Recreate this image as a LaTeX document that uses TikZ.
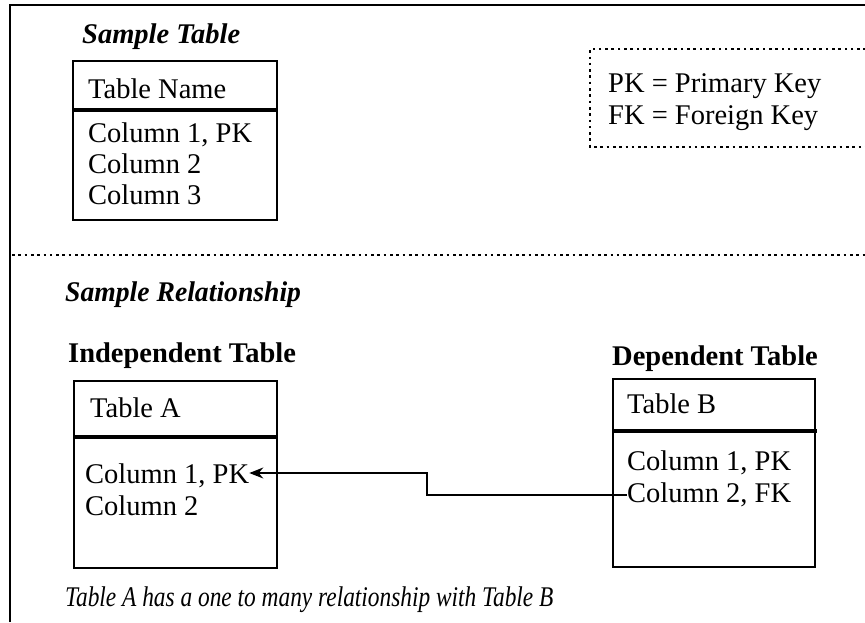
\documentclass[tikz,border=0pt]{standalone}
\usepackage{fontspec}
\usepackage{graphicx}
\setmainfont{Liberation Serif}
\usetikzlibrary{arrows.meta}
\begin{document}
\begin{tikzpicture}[x=1pt,y=-1pt,
  txt/.style={anchor=base west,inner sep=0pt,font=\fontsize{28.5}{31}\selectfont},
  ttl/.style={txt,font=\fontsize{28.5}{31}\selectfont\bfseries\itshape},
  hdr/.style={txt,font=\fontsize{28.5}{31}\selectfont\bfseries},
  tbox/.style={draw,line width=2pt,anchor=north west,inner sep=0pt},
  sep/.style={line width=4pt},
  dots/.style={line width=2.6pt,dash pattern=on 2.6pt off 3.7pt},
  frame/.style={line width=2pt},
  link/.style={line width=1.6pt,-{Stealth[length=14pt,width=11pt]}}]
\useasboundingbox (0,0) rectangle (865,622);
% frame
\draw[frame] (10,622) -- (10,5) -- (866,5);
% sample table
\node[ttl] (stt) at (82,43) {Sample Table};
\node[tbox,minimum width=204pt,minimum height=159pt] (st) at (72,60) {};
\draw[sep] (st.west |- 0,110) -- (st.east |- 0,110);
\node[txt] (stn) at (88,98) {Table Name};
\node[txt] (stc1) at (88,142) {Column 1, PK};
\node[txt] (stc2) at (88,173) {Column 2};
\node[txt] (stc3) at (88,204) {Column 3};
% legend
\draw[dots] (866,49) -- (590,49) -- (590,147) -- (866,147);
\node[txt] (lpk) at (608,92) {PK = Primary Key};
\node[txt] (lfk) at (608,124) {FK = Foreign Key};
% separator
\draw[dots] (12,255) -- (866,255);
% relationship
\node[ttl] (srt) at (65,301) {\scalebox{0.97}[1]{Sample Relationship}};
\node[hdr] (ind) at (68,362) {Independent Table};
\node[tbox,minimum width=203pt,minimum height=187pt] (ta) at (73,380) {};
\draw[sep] (ta.west |- 0,437) -- (ta.east |- 0,437);
\node[txt] (tan) at (90,417) {Table A};
\node[txt] (ta1) at (85,483) {Column 1, PK};
\node[txt] (ta2) at (85,515) {Column 2};
\node[hdr] (dep) at (612,365) {Dependent Table};
\node[tbox,minimum width=202pt,minimum height=188pt] (tb) at (612,378) {};
\draw[sep] (tb.west |- 0,431) -- (817,431);
\node[txt] (tbn) at (627,413) {Table B};
\node[txt] (tb1) at (627,470) {Column 1, PK};
\node[txt] (tb2) at (627,502) {Column 2, FK};
\coordinate (bend) at (427,495);
\draw[link] (tb2.west |- bend) -- (bend) -- (427,473) -- (ta1.east |- 0,473);
\node[txt,font=\fontsize{28.5}{31}\selectfont\itshape] (cap) at (65,606) {\scalebox{0.82}[1]{Table A has a one to many relationship with Table B}};
\end{tikzpicture}
\end{document}
